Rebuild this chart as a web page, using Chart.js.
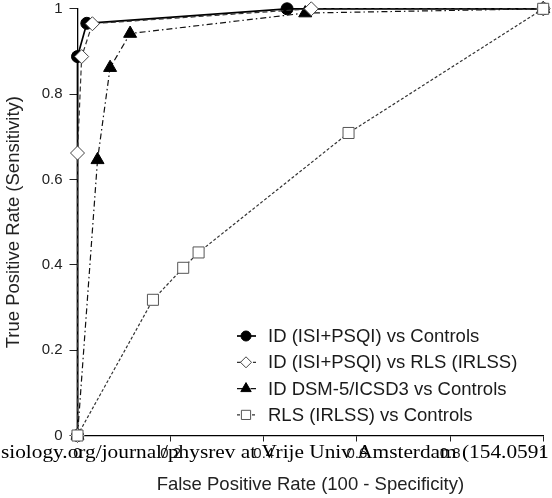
<!DOCTYPE html>
<html>
<head>
<meta charset="utf-8">
<script src="https://cdn.jsdelivr.net/npm/chart.js@4/dist/chart.umd.min.js"></script>
<style>
  html, body { margin: 0; padding: 0; background: #fff; }
  #wrap { width: 552px; height: 498px; }
</style>
</head>
<body>
<div id="wrap"><canvas id="roc" width="552" height="498"></canvas></div>
<script>
// ROC curves
const seriesNames = [
  'ID (ISI+PSQI) vs Controls',
  'ID (ISI+PSQI) vs RLS (IRLSS)',
  'ID DSM-5/ICSD3 vs Controls',
  'RLS (IRLSS) vs Controls'
];
const isiCtrlX = [0, 0, 0.02, 0.45, 1];
const isiCtrlY = [0, 0.888, 0.966, 1, 1];
const isiRlsX = [0, 0, 0.009, 0.032, 0.502, 1];
const isiRlsY = [0, 0.662, 0.888, 0.965, 1, 1];
const dsmCtrlX = [0, 0.043, 0.07, 0.113, 0.489, 1];
const dsmCtrlY = [0, 0.646, 0.862, 0.942, 0.99, 1];
const rlsCtrlX = [0, 0.162, 0.227, 0.26, 0.582, 1];
const rlsCtrlY = [0, 0.318, 0.393, 0.429, 0.709, 1];
const xTicks = [0, 0.2, 0.4, 0.6, 0.8, 1];
const yTicks = [0, 0.2, 0.4, 0.6, 0.8, 1];

const FONT = '"Liberation Sans", Arial, sans-serif';

function pts(xs, ys) { return xs.map((x, i) => ({ x: x, y: ys[i] })); }

const datasets = [
  { label: seriesNames[0], data: pts(isiCtrlX, isiCtrlY), order: 3,
    borderColor: '#000', borderWidth: 1.7, borderDash: [],
    pointStyle: 'circle', pointRadius: 6, pointBackgroundColor: '#000', pointBorderColor: '#000', pointBorderWidth: 1 },
  { label: seriesNames[1], data: pts(isiRlsX, isiRlsY), order: 1,
    borderColor: '#333', borderWidth: 1.2, borderDash: [5, 3],
    pointStyle: 'rectRot', pointRadius: 7, pointBackgroundColor: '#fff', pointBorderColor: '#444', pointBorderWidth: 1 },
  { label: seriesNames[2], data: pts(dsmCtrlX, dsmCtrlY), order: 2,
    borderColor: '#111', borderWidth: 1.2, borderDash: [6, 3, 1.5, 3],
    pointStyle: 'triangle', pointRadius: 7.5, pointBackgroundColor: '#000', pointBorderColor: '#000', pointBorderWidth: 1 },
  { label: seriesNames[3], data: pts(rlsCtrlX, rlsCtrlY), order: 0,
    borderColor: '#333', borderWidth: 1.2, borderDash: [3, 2],
    pointStyle: 'rect', pointRadius: 7.8, pointBackgroundColor: '#fff', pointBorderColor: '#555', pointBorderWidth: 1 }
];
datasets.forEach(d => { d.showLine = true; d.tension = 0; d.fill = false; d.clip = false; });

// legend drawn inside the plot, line stub + marker + label
const legendMarks = [
  { radius: 5, pointStyle: 'circle' },
  { radius: 5.5, pointStyle: 'rectRot' },
  { radius: 6, pointStyle: 'triangle' },
  { radius: 6.5, pointStyle: 'rect' }
];
const insideLegend = {
  id: 'insideLegend',
  afterDraw(chart) {
    const ctx = chart.ctx;
    ctx.save();
    datasets.forEach((d, i) => {
      const y = 336 + i * 26.3;
      ctx.strokeStyle = d.borderColor;
      ctx.lineWidth = d.borderWidth;
      ctx.setLineDash(d.borderDash);
      ctx.beginPath(); ctx.moveTo(237, y); ctx.lineTo(256, y); ctx.stroke();
      ctx.setLineDash([]);
      ctx.fillStyle = d.pointBackgroundColor;
      ctx.strokeStyle = d.pointBorderColor;
      ctx.lineWidth = 1;
      Chart.helpers.drawPoint(ctx, { pointStyle: legendMarks[i].pointStyle, radius: legendMarks[i].radius, rotation: 0, borderWidth: 1 }, 246, y);
      ctx.fillStyle = '#1a1a1a';
      ctx.font = '18.5px ' + FONT;
      ctx.textBaseline = 'middle';
      ctx.textAlign = 'left';
      ctx.fillText(d.label, 268, y + 1);
    });
    ctx.restore();
  }
};

// download stamp that runs across the x tick labels
const stamp = {
  id: 'stamp',
  afterDraw(chart) {
    const ctx = chart.ctx;
    const txt = 'siology.org/journal/physrev at Vrije Univ Amsterdam (154.0591';
    ctx.save();
    ctx.font = '19px "Liberation Serif", "Times New Roman", serif';
    ctx.fillStyle = '#000';
    ctx.textBaseline = 'alphabetic';
    const w = ctx.measureText(txt).width;
    ctx.translate(1, 458);
    ctx.scale(548 / w, 1);
    ctx.fillText(txt, 0, 0);
    ctx.restore();
  }
};

new Chart(document.getElementById('roc'), {
  type: 'scatter',
  data: { datasets: datasets },
  options: {
    responsive: false,
    animation: false,
    layout: { padding: { top: 7.5, right: 7, left: 0, bottom: 0 } },
    plugins: { legend: { display: false }, tooltip: { enabled: false } },
    scales: {
      x: {
        type: 'linear', min: 0, max: 1,
        afterFit(s) { s.height = 62.5; s.paddingLeft = 0; s.paddingRight = 0; },
        afterBuildTicks(s) { s.ticks = xTicks.map(v => ({ value: v })); },
        grid: { display: true, drawOnChartArea: false, drawTicks: true, tickLength: 6, color: '#222' },
        border: { display: true, color: '#000', width: 1.3 },
        ticks: { color: '#222', font: { family: FONT, size: 15 }, padding: 3, maxRotation: 0,
                 callback: v => String(v) },
        title: { display: true, text: 'False Positive Rate (100 - Specificity)', color: '#222',
                 font: { family: FONT, size: 18.5 }, padding: { top: 0, bottom: 2 } }
      },
      y: {
        type: 'linear', min: 0, max: 1,
        afterFit(s) { s.width = 77.5; s.paddingTop = 0; s.paddingBottom = 0; },
        afterBuildTicks(s) { s.ticks = yTicks.map(v => ({ value: v })); },
        grid: { display: true, drawOnChartArea: false, drawTicks: true, tickLength: 8, color: '#222' },
        border: { display: true, color: '#000', width: 1.3 },
        ticks: { color: '#222', font: { family: FONT, size: 15 }, padding: 7,
                 callback: v => String(v) },
        title: { display: true, text: 'True Positive Rate (Sensitivity)', color: '#222',
                 font: { family: FONT, size: 18.5 }, padding: { top: 3, bottom: 0 } }
      }
    }
  },
  plugins: [insideLegend, stamp]
});
</script>
</body>
</html>
